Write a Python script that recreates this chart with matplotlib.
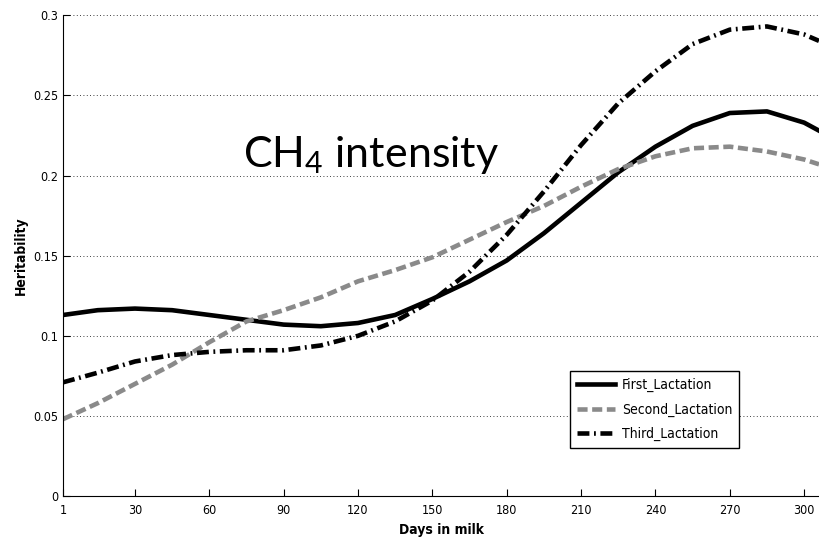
import matplotlib
matplotlib.use("Agg")
import matplotlib.pyplot as plt

# days in milk and heritability estimates
days = [1, 15, 30, 45, 60, 75, 90, 105, 120, 135, 150, 165, 180, 195, 210,
        225, 240, 255, 270, 285, 300, 306]
first = [0.113, 0.116, 0.117, 0.116, 0.113, 0.110, 0.107, 0.106, 0.108, 0.113,
         0.123, 0.134, 0.147, 0.164, 0.183, 0.202, 0.218, 0.231, 0.239, 0.240,
         0.233, 0.228]
second = [0.048, 0.058, 0.070, 0.082, 0.096, 0.109, 0.116, 0.124, 0.134, 0.141,
          0.149, 0.160, 0.171, 0.181, 0.193, 0.204, 0.212, 0.217, 0.218, 0.215,
          0.210, 0.207]
third = [0.071, 0.077, 0.084, 0.088, 0.090, 0.091, 0.091, 0.094, 0.100, 0.109,
         0.122, 0.140, 0.163, 0.190, 0.219, 0.245, 0.265, 0.282, 0.291, 0.293,
         0.288, 0.284]

xticks = [1, 30, 60, 90, 120, 150, 180, 210, 240, 270, 300]
yticks = [0, 0.05, 0.1, 0.15, 0.2, 0.25, 0.3]
ytick_labels = ["0", "0.05", "0.1", "0.15", "0.2", "0.25", "0.3"]

plt.rcParams['font.family'] = ['DejaVu Sans Condensed', 'Liberation Sans Narrow', 'DejaVu Sans']
plt.rcParams['font.stretch'] = 'condensed'
plt.rcParams['mathtext.fontset'] = 'custom'
plt.rcParams['mathtext.rm'] = 'Lato'

fig = plt.figure(figsize=(8.19, 5.44), dpi=100)
ax = fig.add_axes([0.077, 0.088, 0.923, 0.884])

ax.plot(days, first, color='black', lw=3.3, ls='-', label='First_Lactation')
ax.plot(days, second, color='#8a8a8a', lw=3.3, ls=(0, (2.2, 1.0)), label='Second_Lactation')
ax.plot(days, third, color='black', lw=3.3, ls=(0, (2.6, 1.0, 0.4, 1.0)), label='Third_Lactation')

ax.set_xlim(1, 306)
ax.set_ylim(0, 0.3)
ax.set_xticks(xticks)
ax.set_yticks(yticks)
ax.set_yticklabels(ytick_labels)
ax.tick_params(direction='in', labelsize=9, length=5, colors='black')
ax.tick_params(axis='x', pad=6)
ax.yaxis.grid(True, ls=(0, (1, 3)), color='black', lw=0.6)
ax.set_axisbelow(True)
for s in ['top', 'right']:
    ax.spines[s].set_visible(False)

ax.set_xlabel('Days in milk', fontsize=10, fontweight='bold', labelpad=4)
ax.set_ylabel('Heritability', fontsize=10, fontweight='bold', labelpad=4)

ax.text(0.407, 0.684, r'CH$_\mathregular{4}$ intensity', transform=ax.transAxes,
        fontsize=31, family='Lato', stretch='normal', ha='center', va='baseline')

leg = ax.legend(loc='lower left', bbox_to_anchor=(0.671, 0.10), fontsize=10,
                frameon=True, fancybox=False, handlelength=2.7, borderpad=0.5,
                labelspacing=0.75, handletextpad=0.5, borderaxespad=0)
leg.get_frame().set_edgecolor('black')
leg.get_frame().set_linewidth(1.0)
leg.get_frame().set_alpha(1)

fig.savefig('out.png', dpi=100)
